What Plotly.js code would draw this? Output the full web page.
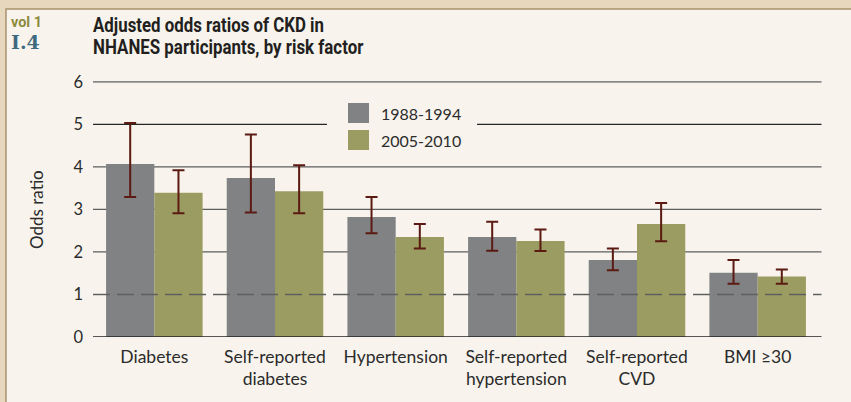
<!DOCTYPE html>
<html>
<head>
<meta charset="utf-8">
<script src="https://cdn.plot.ly/plotly-3.0.1.min.js"></script>
<style>
  html, body { margin: 0; padding: 0; background: #e7d8bd; }
  #chart { width: 851px; height: 402px; }
</style>
</head>
<body>
<div id="chart"></div>
<script>
// ---- data ----
const categories = ['Diabetes', 'Self-reported<br>diabetes', 'Hypertension', 'Self-reported<br>hypertension', 'Self-reported<br>CVD', 'BMI ≥30'];
const seriesNames = ['1988-1994', '2005-2010'];
const or1988 = [4.07, 3.74, 2.82, 2.35, 1.81, 1.51];
const lo1988 = [3.29, 2.93, 2.44, 2.03, 1.57, 1.25];
const hi1988 = [5.03, 4.76, 3.29, 2.71, 2.08, 1.81];
const or2005 = [3.39, 3.43, 2.35, 2.26, 2.66, 1.42];
const lo2005 = [2.91, 2.91, 2.08, 2.02, 2.25, 1.25];
const hi2005 = [3.92, 4.04, 2.66, 2.53, 3.15, 1.59];
const yTicks = [0, 1, 2, 3, 4, 5, 6];
const gridValues = [2, 3, 4, 5, 6];
const referenceLine = 1;
const titleLines = ['Adjusted odds ratios of CKD in', 'NHANES participants, by risk factor'];

// ---- styles ----
const colors = ['#808284', '#9b9c61'];
const errColor = '#5b1a12';
const txt = '#2b2b2b';
const font = 'Lato, "Open Sans", sans-serif';
const boldFont = 'Roboto, "Open Sans", sans-serif';
const gridStyle = { 2: ['#5e5e5e', 1.3], 3: ['#5e5e5e', 1.3], 4: ['#5e5e5e', 1.3], 5: ['#262626', 1.2], 6: ['#8a8a8a', 1.8] };

function mkTrace(name, vals, lo, hi, color) {
  return {
    type: 'bar', name: name, x: categories, y: vals,
    marker: { color: color, line: { width: 0 } },
    error_y: {
      type: 'data', symmetric: false,
      array: vals.map((v, i) => hi[i] - v),
      arrayminus: vals.map((v, i) => v - lo[i]),
      color: errColor, thickness: 2, width: 6
    },
    showlegend: false, hoverinfo: 'skip'
  };
}

const traces = [
  mkTrace(seriesNames[0], or1988, lo1988, hi1988, colors[0]),
  mkTrace(seriesNames[1], or2005, lo2005, hi2005, colors[1])
];

// pixel helpers for decorative placement
const L = 94, R = 33, T = 81, B = 65, W = 851, H = 402;
const pw = W - L - R, ph = H - T - B;
const px = v => (v - L) / pw;
const py = v => (H - B - v) / ph;
const gx0 = px(93), gx1 = px(821.5);

const shapes = [
  { type: 'rect', xref: 'paper', yref: 'paper', x0: px(6), x1: px(870), y0: py(420), y1: py(9),
    fillcolor: '#f8f4ed', line: { color: '#a8916d', width: 1.5 }, layer: 'below' }
];
gridValues.forEach(v => {
  shapes.push({ type: 'line', xref: 'paper', yref: 'y', x0: gx0, x1: gx1, y0: v, y1: v,
    line: { color: gridStyle[v][0], width: gridStyle[v][1] }, layer: 'below' });
});
shapes.push(
  // legend background hiding gridline
  { type: 'rect', xref: 'paper', yref: 'paper', x0: px(327), x1: px(477), y0: py(152), y1: py(96),
    fillcolor: '#f8f4ed', line: { width: 0 }, layer: 'below' },
  // legend swatches
  { type: 'rect', xref: 'paper', yref: 'paper', x0: px(348), x1: px(369), y0: py(123), y1: py(103),
    fillcolor: colors[0], line: { width: 0 } },
  { type: 'rect', xref: 'paper', yref: 'paper', x0: px(348), x1: px(369), y0: py(150), y1: py(130),
    fillcolor: colors[1], line: { width: 0 } },
  // baseline
  { type: 'line', xref: 'paper', yref: 'y', x0: gx0, x1: gx1, y0: 0, y1: 0,
    line: { color: '#222', width: 1.5 }, layer: 'above' },
  // reference line
  { type: 'line', xref: 'paper', yref: 'y', x0: gx0, x1: gx1, y0: referenceLine, y1: referenceLine,
    line: { color: '#5f5f5f', width: 1.6, dash: '17px,7px' }, layer: 'above' }
);

const annotations = [
  { xref: 'paper', yref: 'paper', x: px(379), y: py(113), xanchor: 'left', yanchor: 'middle',
    text: seriesNames[0], showarrow: false, font: { family: font, size: 16, color: txt } },
  { xref: 'paper', yref: 'paper', x: px(379), y: py(140), xanchor: 'left', yanchor: 'middle',
    text: seriesNames[1], showarrow: false, font: { family: font, size: 16, color: txt } },
  { xref: 'paper', yref: 'paper', x: px(36), y: py(210), xanchor: 'center', yanchor: 'middle',
    text: 'Odds ratio', textangle: -90, showarrow: false, font: { family: font, size: 17, color: txt } },
  { xref: 'paper', yref: 'paper', x: px(9), y: py(11), xanchor: 'left', yanchor: 'top',
    text: '<b>vol 1</b>', showarrow: false, name: 'sq-31',
    font: { family: boldFont, size: 15, color: '#8c8b3e' } },
  { xref: 'paper', yref: 'paper', x: px(9), y: py(29), xanchor: 'left', yanchor: 'top',
    text: '<b>I.4</b>', showarrow: false,
    font: { family: '"DejaVu Serif", "Liberation Serif", serif', size: 19, color: '#3e6a80' } },
  { xref: 'paper', yref: 'paper', x: px(91), y: py(11), xanchor: 'left', yanchor: 'top',
    text: '<b>' + titleLines[0] + '</b>', showarrow: false, name: 'sq-231',
    font: { family: boldFont, size: 20, color: '#231f20' } },
  { xref: 'paper', yref: 'paper', x: px(91), y: py(33), xanchor: 'left', yanchor: 'top',
    text: '<b>' + titleLines[1] + '</b>', showarrow: false, name: 'sq-271',
    font: { family: boldFont, size: 20, color: '#231f20' } }
];

const layout = {
  width: W, height: H,
  margin: { l: L, r: R, t: T, b: B, pad: 0 },
  paper_bgcolor: '#e7d8bd', plot_bgcolor: 'rgba(0,0,0,0)',
  barmode: 'group', bargap: 0.2, bargroupgap: 0,
  font: { family: font, size: 16, color: txt },
  xaxis: {
    type: 'category', range: [-0.5, 5.5], showgrid: false, zeroline: false,
    showline: false, ticks: '', ticklabelstandoff: 7,
    tickfont: { family: font, size: 17.5, color: txt }, fixedrange: true
  },
  yaxis: {
    range: [0, 6.02], tickvals: yTicks, ticktext: yTicks.map(String),
    showgrid: false, zeroline: false,
    showline: false, ticks: '', ticklabelstandoff: 10,
    tickfont: { family: font, size: 16.5, color: txt }, fixedrange: true
  },
  shapes: shapes,
  annotations: annotations,
  showlegend: false
};

Plotly.newPlot('chart', traces, layout, { staticPlot: true, displayModeBar: false }).then(gd => {
  // horizontally condense the bold title texts to the reference widths
  const anns = gd._fullLayout.annotations;
  const groups = gd.querySelectorAll('g.annotation');
  anns.forEach((a, i) => {
    if (!a.name || a.name.indexOf('sq-') !== 0) return;
    const target = parseFloat(a.name.slice(3));
    const t = groups[i] && groups[i].querySelector('text');
    if (!t) return;
    const bb = t.getBBox();
    const s = target / bb.width;
    t.setAttribute('transform', `translate(${bb.x},0) scale(${s},1) translate(${-bb.x},0)`);
  });
});
</script>
</body>
</html>
